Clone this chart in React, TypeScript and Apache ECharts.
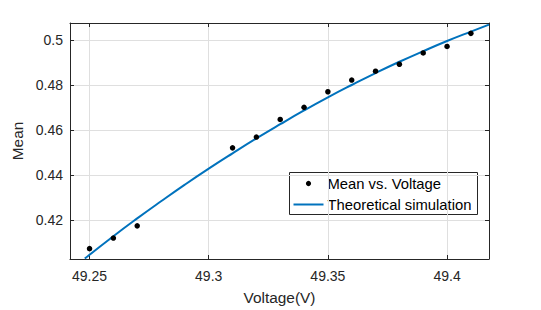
import React, { useEffect, useRef } from "react";
import * as echarts from "echarts";

// Measured data: Mean vs. Voltage
const voltage = [49.25, 49.26, 49.27, 49.31, 49.32, 49.33, 49.34, 49.35, 49.36, 49.37, 49.38, 49.39, 49.4, 49.41];
const meanValues = [0.4074, 0.4121, 0.4175, 0.4521, 0.4569, 0.4647, 0.4701, 0.477, 0.4822, 0.4861, 0.4892, 0.4942, 0.4971, 0.5029];

// Theoretical simulation curve
const simVoltage = [49.248, 49.26, 49.27, 49.28, 49.29, 49.3, 49.31, 49.32, 49.33, 49.34, 49.35, 49.36, 49.37, 49.38, 49.39, 49.4, 49.41, 49.4176];
const simMean = [0.403, 0.4129, 0.4208, 0.4284, 0.4358, 0.4429, 0.4497, 0.4563, 0.4626, 0.4687, 0.4745, 0.48, 0.4853, 0.4903, 0.495, 0.4995, 0.5037, 0.5068];

// Axis ticks
const xTicks = [49.25, 49.3, 49.35, 49.4];
const yTicks = [0.42, 0.44, 0.46, 0.48, 0.5];
const xRange = [49.2418, 49.4176];
const yRange = [0.4028, 0.5075];

const seriesNames = ["Mean vs. Voltage", "Theoretical simulation"];

const TEXT = "#262626";
const FONT = "Liberation Sans, Arial, sans-serif";

export default function App() {
  const ref = useRef<HTMLDivElement>(null);
  useEffect(() => {
    if (!ref.current) return;
    const chart = echarts.init(ref.current, null, { renderer: "svg" });
    const axisCommon = {
      type: "value" as const,
      axisLine: { show: true, onZero: false, lineStyle: { color: TEXT, width: 1 } },
      axisTick: { show: true, inside: true, length: 4, lineStyle: { color: TEXT } },
    };
    chart.setOption({
      animation: false,
      backgroundColor: "#ffffff",
      textStyle: { fontFamily: FONT },
      grid: { left: 70, right: 52, top: 23, bottom: 49 },
      xAxis: [
        {
          ...axisCommon,
          position: "bottom",
          min: xRange[0],
          max: xRange[1],
          axisTick: { ...axisCommon.axisTick, customValues: xTicks },
          axisLabel: { customValues: xTicks, color: TEXT, fontSize: 14, margin: 10, fontFamily: FONT },
          splitLine: { show: true, lineStyle: { color: "#dfdfdf", width: 1 } },
          name: "Voltage(V)",
          nameLocation: "middle",
          nameGap: 31,
          nameTextStyle: { color: TEXT, fontSize: 15.4, fontFamily: FONT },
        },
        {
          ...axisCommon,
          position: "top",
          min: xRange[0],
          max: xRange[1],
          axisTick: { ...axisCommon.axisTick, customValues: xTicks },
          axisLabel: { show: false, customValues: xTicks },
          splitLine: { show: false },
        },
      ],
      yAxis: [
        {
          ...axisCommon,
          position: "left",
          min: yRange[0],
          max: yRange[1],
          axisTick: { ...axisCommon.axisTick, customValues: yTicks },
          axisLabel: { customValues: yTicks, color: TEXT, fontSize: 14, margin: 7, fontFamily: FONT },
          splitLine: { show: true, lineStyle: { color: "#dfdfdf", width: 1 } },
          name: "Mean",
          nameLocation: "middle",
          nameGap: 37,
          nameTextStyle: { color: TEXT, fontSize: 15.4, fontFamily: FONT },
        },
        {
          ...axisCommon,
          position: "right",
          min: yRange[0],
          max: yRange[1],
          axisTick: { ...axisCommon.axisTick, customValues: yTicks },
          axisLabel: { show: false, customValues: yTicks },
          splitLine: { show: false },
        },
      ],
      series: [
        {
          name: seriesNames[1],
          type: "line",
          data: simVoltage.map((v, i) => [v, simMean[i]]),
          showSymbol: false,
          smooth: true,
          lineStyle: { color: "#0072BD", width: 2 },
          itemStyle: { color: "#0072BD" },
          z: 3,
        },
        {
          name: seriesNames[0],
          type: "scatter",
          data: voltage.map((v, i) => [v, meanValues[i]]),
          symbol: "circle",
          symbolSize: 5.5,
          itemStyle: { color: "#000000", opacity: 1 },
          z: 4,
        },
      ],
      graphic: [
        {
          type: "group",
          left: 289,
          top: 172,
          children: [
            {
              type: "rect",
              shape: { x: 0, y: 0, width: 188, height: 42 },
              style: { fill: "#ffffff", stroke: TEXT, lineWidth: 1 },
            },
            { type: "circle", shape: { cx: 19, cy: 11, r: 2.6 }, style: { fill: "#000000" } },
            {
              type: "line",
              shape: { x1: 4, y1: 32, x2: 34, y2: 32 },
              style: { stroke: "#0072BD", lineWidth: 2 },
            },
            {
              type: "text",
              x: 38,
              y: 11,
              style: { text: seriesNames[0], fill: "#000000", font: `14.8px ${FONT}`, verticalAlign: "middle" },
            },
            {
              type: "text",
              x: 38,
              y: 32,
              style: { text: seriesNames[1], fill: "#000000", font: `14.8px ${FONT}`, verticalAlign: "middle" },
            },
          ],
        },
      ],
    });
    return () => chart.dispose();
  }, []);
  return (
    <div
      ref={ref}
      style={{ position: "fixed", left: 0, top: 0, width: 541, height: 310, background: "#fff" }}
    />
  );
}
